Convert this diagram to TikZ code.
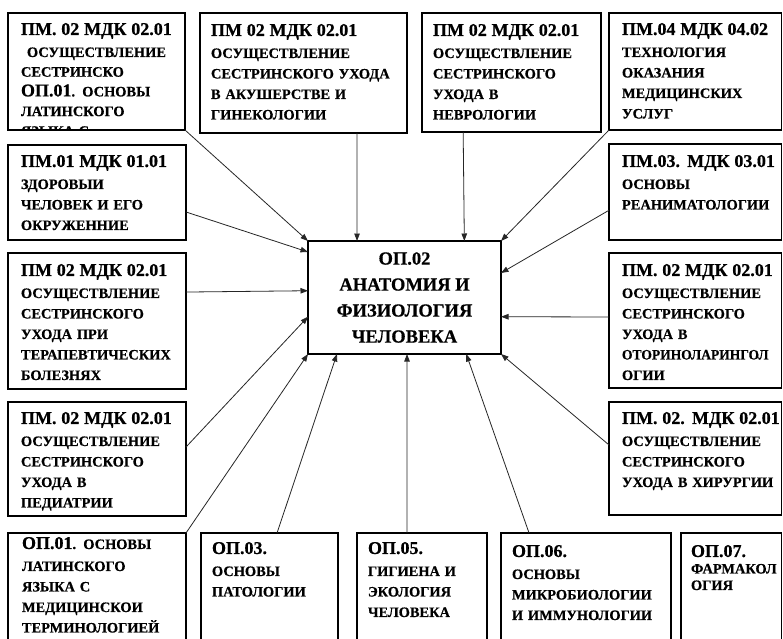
\documentclass[tikz,border=0pt]{standalone}
\usepackage{fontspec}
\setmainfont{Liberation Serif}[BoldFeatures={FakeBold=0.5}]
\usetikzlibrary{calc,fit,arrows.meta}
\newcommand\hdr{\fontsize{18}{20.5}\selectfont}
\begin{document}
\begin{tikzpicture}[x=1pt,y=-1pt,
  box/.style={draw=black, line width=1.1pt, inner sep=0pt, outer sep=0pt},
  txt/.style={anchor=north west, inner sep=0pt, outer sep=0pt, text width=260pt, align=left, font=\fontsize{14.4}{20.5}\selectfont\bfseries},
  conn/.style={line width=0.8pt, draw=black!85, -{Triangle[length=7.5pt,width=5.5pt]}},
  ctr/.style={align=center, inner sep=0pt, font=\fontsize{18.5}{26}\selectfont\bfseries}
  ]
\useasboundingbox (0,0) rectangle (783,638);
\clip (0,0) rectangle (783,638);
\fill[white] (0,0) rectangle (783,638);

% boxes
\node[box, fit={(8,13) (185,130)}] (A1) {};
\node[box, fit={(200,13) (407,133)}] (A2) {};
\node[box, fit={(422,13) (601,132)}] (A3) {};
\node[box, fit={(609,13) (781.5,130)}] (A4) {};
\node[box, fit={(8,145) (186,240)}] (L2) {};
\node[box, fit={(8,253) (186,389)}] (L3) {};
\node[box, fit={(8,402) (186,516)}] (L4) {};
\node[box, fit={(8,533) (186,650)}] (L5) {};
\node[box, fit={(609,144) (781.5,240)}] (R2) {};
\node[box, fit={(609,253) (781.5,388)}] (R3) {};
\node[box, fit={(609,402) (781.5,515)}] (R4) {};
\node[box, fit={(201,533) (338,650)}] (B3) {};
\node[box, fit={(357,533) (487,650)}] (B5) {};
\node[box, fit={(501,533) (671,650)}] (B6) {};
\node[box, fit={(681,533) (781.5,650)}] (B7) {};
\node[box, fit={(308,241) (501,354)}] (C) {};

% texts
\begin{scope}
\clip (A1.north west) rectangle (A1.south east);
\node[txt, font=\fontsize{14.4}{19.7}\selectfont\bfseries] (A1t) at ([shift={(13pt,-10pt)}]A1.north west)
 {{\hdr ПМ. 02 МДК 02.01}\\[2.3pt]\hspace*{6pt}ОСУЩЕСТВЛЕНИЕ\\СЕСТРИНСКО\\{\hdr ОП.01}. ОСНОВЫ\\ЛАТИНСКОГО\\ЯЗЫКА С};
\end{scope}
\node[txt] (A2t) at ([shift={(11pt,-11pt)}]A2.north west)
 {{\hdr ПМ 02 МДК 02.01}\\[1.5pt]ОСУЩЕСТВЛЕНИЕ\\СЕСТРИНСКОГО УХОДА\\В АКУШЕРСТВЕ И\\ГИНЕКОЛОГИИ};
\node[txt] (A3t) at ([shift={(11pt,-11pt)}]A3.north west)
 {{\hdr ПМ 02 МДК 02.01}\\[1.5pt]ОСУЩЕСТВЛЕНИЕ\\СЕСТРИНСКОГО\\УХОДА В\\НЕВРОЛОГИИ};
\node[txt] (A4t) at ([shift={(13pt,-10pt)}]A4.north west)
 {{\hdr ПМ.04 МДК 04.02}\\[1.5pt]ТЕХНОЛОГИЯ\\ОКАЗАНИЯ\\МЕДИЦИНСКИХ\\УСЛУГ};
\node[txt] (L2t) at ([shift={(13pt,-10pt)}]L2.north west)
 {{\hdr ПМ.01 МДК 01.01}\\[1.5pt]ЗДОРОВЫИ\\ЧЕЛОВЕК И ЕГО\\ОКРУЖЕННИЕ};
\node[txt] (L3t) at ([shift={(13pt,-11pt)}]L3.north west)
 {{\hdr ПМ 02 МДК 02.01}\\[1.5pt]ОСУЩЕСТВЛЕНИЕ\\СЕСТРИНСКОГО\\УХОДА ПРИ\\ТЕРАПЕВТИЧЕСКИХ\\БОЛЕЗНЯХ};
\node[txt] (L4t) at ([shift={(13pt,-10pt)}]L4.north west)
 {{\hdr ПМ. 02 МДК 02.01}\\[1.5pt]ОСУЩЕСТВЛЕНИЕ\\СЕСТРИНСКОГО\\УХОДА В\\ПЕДИАТРИИ};
\node[txt] (L5t) at ([shift={(14pt,-4pt)}]L5.north west)
 {{\hdr ОП.01}. ОСНОВЫ\\[1.5pt]ЛАТИНСКОГО\\ЯЗЫКА С\\МЕДИЦИНСКОИ\\ТЕРМИНОЛОГИЕЙ};
\node[txt] (R2t) at ([shift={(13pt,-11pt)}]R2.north west)
 {{\hdr ПМ.03. МДК 03.01}\\[1.5pt]ОСНОВЫ\\РЕАНИМАТОЛОГИИ};
\node[txt] (R3t) at ([shift={(13pt,-11pt)}]R3.north west)
 {{\hdr ПМ. 02 МДК 02.01}\\[1.5pt]ОСУЩЕСТВЛЕНИЕ\\СЕСТРИНСКОГО\\УХОДА В\\\scalebox{0.94}[1]{ОТОРИНОЛАРИНГОЛ}\\ОГИИ};
\node[txt] (R4t) at ([shift={(13pt,-10pt)}]R4.north west)
 {{\hdr ПМ. 02. МДК 02.01}\\[1.5pt]ОСУЩЕСТВЛЕНИЕ\\СЕСТРИНСКОГО\\УХОДА В ХИРУРГИИ};
\node[txt] (B3t) at ([shift={(11pt,-9pt)}]B3.north west)
 {{\hdr ОП.03.}\\[1.5pt]ОСНОВЫ\\ПАТОЛОГИИ};
\node[txt] (B5t) at ([shift={(11pt,-9pt)}]B5.north west)
 {{\hdr ОП.05.}\\[1.5pt]ГИГИЕНА И\\ЭКОЛОГИЯ\\ЧЕЛОВЕКА};
\node[txt] (B6t) at ([shift={(11pt,-12pt)}]B6.north west)
 {{\hdr ОП.06.}\\[1.5pt]ОСНОВЫ\\МИКРОБИОЛОГИИ\\И ИММУНОЛОГИИ};
\node[txt, font=\fontsize{14.4}{16.5}\selectfont\bfseries] (B7t) at ([shift={(10pt,-12pt)}]B7.north west)
 {{\hdr ОП.07.}\\ФАРМАКОЛ\\ОГИЯ};
\node[ctr] (Ct) at (C.center) {ОП.02\\АНАТОМИЯ И\\ФИЗИОЛОГИЯ\\ЧЕЛОВЕКА};

% connectors
\draw[conn] (A1.south east) -- (C.north west);
\draw[conn] ($(A2.south west)!0.758!(A2.south east)$) -- ($(C.north west)!0.254!(C.north east)$);
\draw[conn] ($(A3.south west)!0.23!(A3.south east)$) -- ($(C.north west)!0.81!(C.north east)$);
\draw[conn] (A4.south west) -- (C.north east);
\draw[conn] ($(L2.north east)!0.705!(L2.south east)$) -- ($(C.north west)!0.097!(C.south west)$);
\draw[conn] ($(L3.north east)!0.287!(L3.south east)$) -- ($(C.north west)!0.44!(C.south west)$);
\draw[conn] ($(L4.north east)!0.395!(L4.south east)$) -- ($(C.north west)!0.67!(C.south west)$);
\draw[conn] (L5.north east) -- (C.south west);
\draw[conn] ($(B3.north west)!0.555!(B3.north east)$) -- ($(C.south west)!0.15!(C.south east)$);
\draw[conn] ($(B5.north west)!0.385!(B5.north east)$) -- ($(C.south west)!0.513!(C.south east)$);
\draw[conn] ($(B6.north west)!0.165!(B6.north east)$) -- ($(C.south west)!0.82!(C.south east)$);
\draw[conn] ($(R4.north west)!0.38!(R4.south west)$) -- (C.south east);
\draw[conn] ($(R3.north west)!0.474!(R3.south west)$) -- ($(C.north east)!0.67!(C.south east)$);
\draw[conn] ($(R2.north west)!0.69!(R2.south west)$) -- ($(C.north east)!0.283!(C.south east)$);
\end{tikzpicture}
\end{document}
